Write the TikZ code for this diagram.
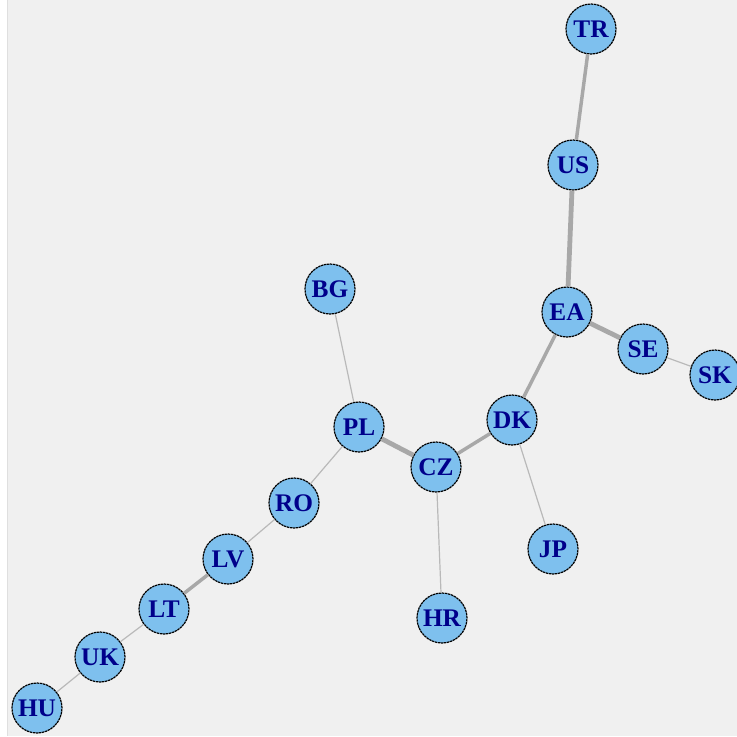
\documentclass[tikz,border=0pt]{standalone}
\usepackage{fontspec}
\setmainfont{Liberation Serif}
\definecolor{fond}{RGB}{240,240,240}
\definecolor{bleuciel}{RGB}{126,192,238}
\definecolor{bleufonce}{RGB}{0,0,139}
\definecolor{arete}{RGB}{168,168,168}

\begin{document}
\begin{tikzpicture}[x=0.75pt,y=-0.75pt,
    pays/.style={circle,draw=black,line width=0.9pt,dash pattern=on 1.8pt off 0.5pt,
      fill=bleuciel,text=bleufonce,minimum size=37.5pt,inner sep=0pt,
      font=\fontsize{19}{21}\selectfont\bfseries},
    faible/.style={draw=arete!80,line width=0.9pt},
    moyen/.style={draw=arete,line width=2.6pt},
    fort/.style={draw=arete,line width=3.6pt}]
    \useasboundingbox (0,0) rectangle (737,736);

    % fond gris avec la marge blanche a gauche
    \fill[white] (0,0) rectangle (737,736);
    \fill[fond] (7,0) rectangle (737,736);
    \draw[gray!25,line width=0.75pt] (7.5,0) -- (7.5,736);

    % les pays
    \node[pays] (TR) at (591,29) {TR};
    \node[pays] (US) at (573,165) {US};
    \node[pays] (EA) at (567,312) {EA};
    \node[pays] (SE) at (643,349) {SE};
    \node[pays] (SK) at (715,375) {SK};
    \node[pays] (DK) at (512,420) {DK};
    \node[pays] (BG) at (330,289) {BG};
    \node[pays] (PL) at (359,427) {PL};
    \node[pays] (CZ) at (436,467) {CZ};
    \node[pays] (JP) at (553,549) {JP};
    \node[pays] (HR) at (442,618) {HR};
    \node[pays] (RO) at (294,503) {RO};
    \node[pays] (LV) at (228,559) {LV};
    \node[pays] (LT) at (164,609) {LT};
    \node[pays] (UK) at (100,657) {UK};
    \node[pays] (HU) at (37,708) {HU};

    % les liens
    \draw[moyen] (TR) -- (US);
    \draw[fort] (US) -- (EA);
    \draw[fort] (EA) -- (SE);
    \draw[faible] (SE) -- (SK);
    \draw[moyen] (EA) -- (DK);
    \draw[moyen] (DK) -- (CZ);
    \draw[fort] (CZ) -- (PL);
    \draw[faible] (PL) -- (BG);
    \draw[faible] (DK) -- (JP);
    \draw[faible] (CZ) -- (HR);
    \draw[faible] (PL) -- (RO);
    \draw[faible] (RO) -- (LV);
    \draw[moyen] (LV) -- (LT);
    \draw[faible] (LT) -- (UK);
    \draw[faible] (UK) -- (HU);
\end{tikzpicture}
\end{document}
